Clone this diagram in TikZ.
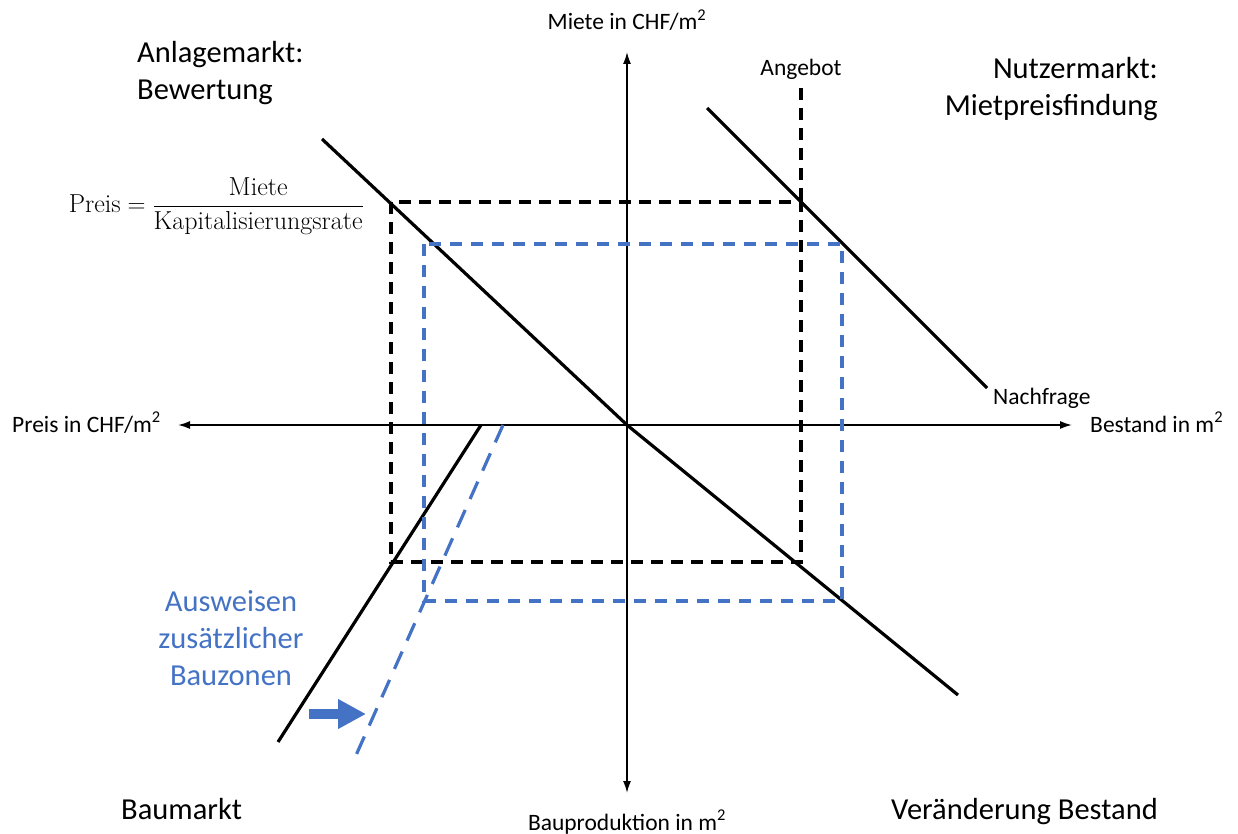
\documentclass[tikz,border=0pt]{standalone}
\usepackage{fontspec}
\newfontfamily\calibri{Carlito}
\usetikzlibrary{arrows.meta}
\definecolor{zoneblue}{HTML}{4472C4}

\begin{document}
\begin{tikzpicture}[x=1pt, y=-1pt,
    axis/.style={line width=1.7pt, {Latex[length=12pt,width=8pt]}-{Latex[length=12pt,width=8pt]}},
    curve/.style={line width=3.2pt, black},
    blackdash/.style={line width=3.2pt, black, dash pattern=on 12pt off 8pt},
    bluedash/.style={line width=3.2pt, zoneblue, dash pattern=on 12pt off 9pt},
    big/.style={font=\calibri\fontsize{30.5}{37}\selectfont, inner sep=0pt},
    small/.style={font=\calibri\fontsize{23.5}{28}\selectfont, inner sep=0pt}]

    \useasboundingbox (0,0) rectangle (1238,834);

    % Axes
    \coordinate (O) at (627,425);
    \coordinate (xleft) at (178,425);
    \coordinate (xright) at (1072,425);
    \coordinate (ytop) at (627,52);
    \coordinate (ybottom) at (627,793);
    \draw[axis] (xleft) -- (xright);
    \draw[axis] (ytop) -- (ybottom);

    \node[small, anchor=base] (miete) at (627,30) {Miete in CHF/m\textsuperscript{2}};
    \node[small, anchor=base] (bauprod) at (627,830) {Bauproduktion in m\textsuperscript{2}};
    \node[small, anchor=base east] (preis) at (161,432) {Preis in CHF/m\textsuperscript{2}};
    \node[small, anchor=base west] (bestand) at (1090,432) {Bestand in m\textsuperscript{2}};

    % Quadrant titles (base = last line)
    \node[big, align=left, anchor=base west] (anlage) at (137,100) {Anlagemarkt:\\Bewertung};
    \node[big, align=right, anchor=base east] (nutzer) at (1158,116) {Nutzermarkt:\\Mietpreisfindung};
    \node[big, anchor=base west] (baumarkt) at (121,819) {Baumarkt};
    \node[big, anchor=base east] (veraenderung) at (1158,819) {Veränderung Bestand};

    % Valuation formula
    \node[anchor=east, inner sep=0pt, font=\fontsize{26}{31}\selectfont] (formel) at (364,206)
        {$\displaystyle \mathrm{Preis} = \frac{\mathrm{Miete}}{\mathrm{Kapitalisierungsrate}}$};

    % Market curves
    \coordinate (anlageA) at (322,139);
    \coordinate (bestandB) at (958,695);
    \coordinate (nachfrageA) at (707,108);
    \coordinate (nachfrageB) at (987,388);
    \coordinate (bauA) at (481,425);
    \coordinate (bauB) at (278,742);
    \draw[curve] (anlageA) -- (O) -- (bestandB);
    \draw[curve] (nachfrageA) -- (nachfrageB);
    \draw[curve] (bauA) -- (bauB);
    \node[small, anchor=base west] (nachfrage) at (993,404) {Nachfrage};

    % Equilibrium before
    \coordinate (angebotA) at (801,88);
    \draw[blackdash] (angebotA) -- (801,202);
    \draw[blackdash] (391,202) rectangle (801,562);
    \node[small, anchor=base] (angebot) at (801,76) {Angebot};

    % Equilibrium after additional building zones
    \coordinate (bauneuA) at (503,425);
    \coordinate (bauneuB) at (353,762);
    \draw[bluedash] (424,244) rectangle (842,601);
    \draw[bluedash, dash pattern=on 19pt off 12pt] (bauneuA) -- (bauneuB);

    \node[big, text=zoneblue, align=center, anchor=base] (ausweisen) at (231,685)
        {Ausweisen\\zusätzlicher\\Bauzonen};
    \coordinate (shiftA) at (309,714);
    \coordinate (shiftB) at (366,714);
    \draw[zoneblue, line width=10pt, -{Triangle[length=28pt,width=28pt]}] (shiftA) -- (shiftB);

\end{tikzpicture}
\end{document}
